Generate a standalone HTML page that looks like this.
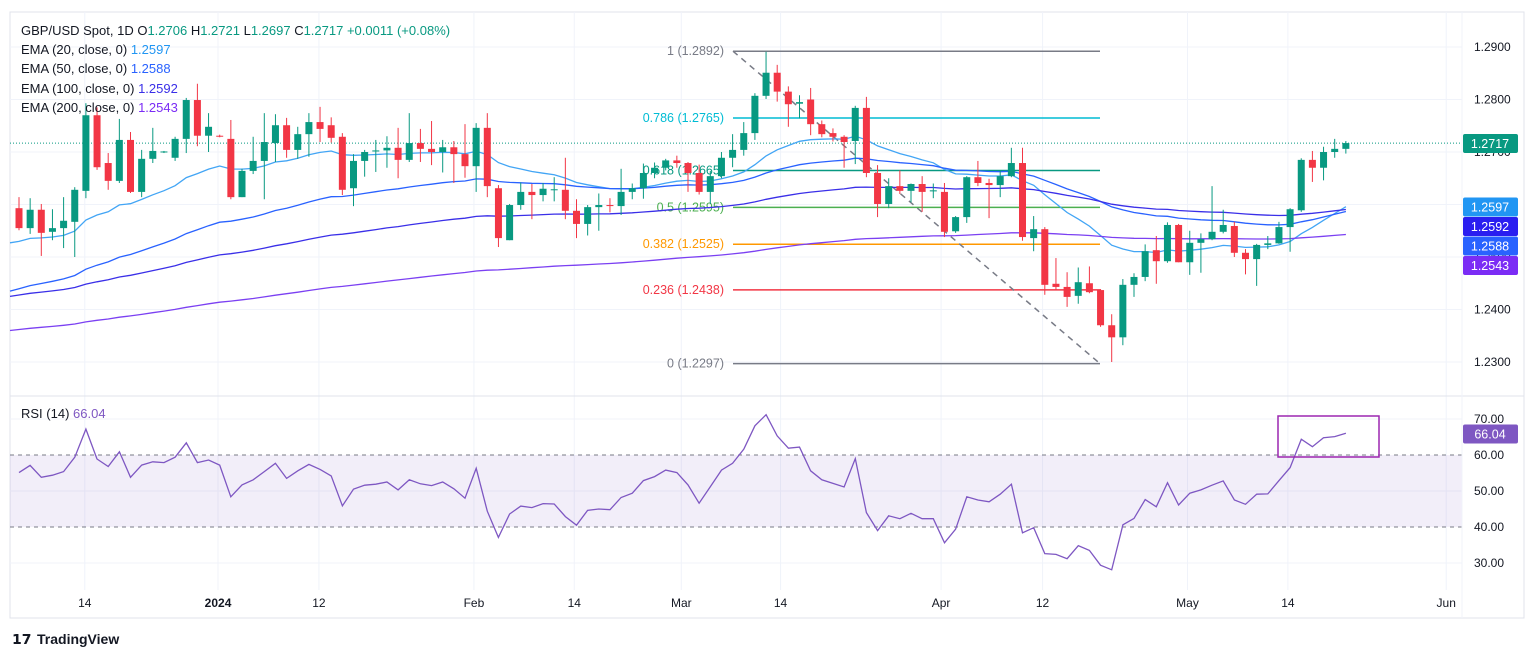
<!DOCTYPE html>
<html><head><meta charset="utf-8">
<style>
html,body{margin:0;padding:0;background:#fff;}
svg{display:block;font-family:"Liberation Sans",sans-serif;}
</style></head>
<body>
<svg id="chart" width="1536" height="659" viewBox="0 0 1536 659" xmlns="http://www.w3.org/2000/svg">
<rect x="0" y="0" width="1536" height="659" fill="#fff"/>
<rect x="10" y="12" width="1514" height="606" fill="none" stroke="#e0e3eb" stroke-width="1"/>
<g id="grid"></g>
<g id="fib"></g>
<g id="emas"></g>
<g id="candles"></g>
<g id="rsi"></g>
<g id="axes"></g>
<g id="legend" font-size="13" fill="#131722">
 <text x="21" y="35">GBP/USD Spot, 1D  O<tspan fill="#089981">1.2706</tspan>  H<tspan fill="#089981">1.2721</tspan>  L<tspan fill="#089981">1.2697</tspan>  C<tspan fill="#089981">1.2717</tspan>  <tspan fill="#089981">+0.0011 (+0.08%)</tspan></text>
 <text x="21" y="54">EMA (20, close, 0)  <tspan fill="#2196f3">1.2597</tspan></text>
 <text x="21" y="73">EMA (50, close, 0)  <tspan fill="#2962ff">1.2588</tspan></text>
 <text x="21" y="93">EMA (100, close, 0)  <tspan fill="#3a2fe8">1.2592</tspan></text>
 <text x="21" y="112">EMA (200, close, 0)  <tspan fill="#7b2cf5">1.2543</tspan></text>
 <text x="21" y="418">RSI (14)  <tspan fill="#7e57c2">66.04</tspan></text>
</g>
<g>
 <text x="12" y="644" font-size="14" font-weight="bold" fill="#131722">𝟭𝟳</text>
 <text x="37" y="644" font-size="14" font-weight="bold" fill="#131722">TradingView</text>
</g>
</svg>
<script>
const opens=[1.2593,1.2555,1.2590,1.2548,1.2555,1.2567,1.2626,1.2770,1.2679,1.2645,1.2723,1.2624,1.2687,1.2700,1.2689,1.2725,1.2799,1.2731,1.2731,1.2725,1.2614,1.2664,1.2683,1.2717,1.2751,1.2704,1.2734,1.2757,1.2751,1.2729,1.2631,1.2683,
1.2701,1.2703,1.2708,1.2685,1.2717,1.2706,1.2700,1.2709,1.2696,1.2673,1.2746,1.2631,1.2532,1.2599,1.2624,1.2618,1.2628,1.2628,1.2588,1.2563,1.2595,1.2599,1.2597,1.2624,1.2631,1.2660,1.2670,1.2684,1.2679,1.2660,1.2624,
1.2654,1.2689,1.2704,1.2736,1.2807,1.2851,1.2815,1.2792,1.2800,1.2753,1.2736,1.2729,1.2721,1.2784,1.2660,1.2601,1.2635,1.2626,1.2639,1.2625,1.2624,1.2549,1.2576,1.2652,1.2641,1.2637,1.2654,1.2679,
1.2536,1.2553,1.2449,1.2443,1.2426,1.2450,1.2437,1.2370,1.2347,1.2447,1.2462,1.2513,1.2492,1.2561,1.2490,1.2527,1.2534,1.2548,1.2559,1.2508,1.2496,1.2523,1.2526,1.2557,1.2589,1.2685,1.2670,1.2700,1.2706];
const highs=[1.2614,1.2612,1.2601,1.2591,1.2614,1.2633,1.2793,1.2785,1.2698,1.2763,1.2738,1.2704,1.2746,1.2702,1.2729,1.2803,1.2830,1.2774,1.2733,1.2761,1.2668,1.2729,1.2774,1.2772,1.2765,1.2748,1.2774,1.2786,1.2766,1.2736,1.2696,1.2704,
1.2723,1.2730,1.2746,1.2774,1.2744,1.2759,1.2723,1.2721,1.2753,1.2755,1.2774,1.2637,1.2601,1.2642,1.2639,1.2641,1.2652,1.2689,1.2610,1.2599,1.2621,1.2612,1.2668,1.2640,1.2678,1.2680,1.2687,1.2693,1.2681,1.2676,1.2664,
1.2700,1.2734,1.2757,1.2812,1.2891,1.2866,1.2825,1.2808,1.2822,1.2760,1.2745,1.2732,1.2788,1.2805,1.2675,1.2650,1.2665,1.2640,1.2654,1.2640,1.2641,1.2578,1.2654,1.2683,1.2649,1.2664,1.2708,1.2708,
1.2578,1.2557,1.2498,1.2471,1.2480,1.2482,1.2439,1.2391,1.2458,1.2469,1.2524,1.2540,1.2566,1.2563,1.2550,1.2545,1.2635,1.2590,1.2567,1.2515,1.2525,1.2540,1.2567,1.2593,1.2688,1.2702,1.2710,1.2725,1.2721];
const lows=[1.2551,1.2544,1.2502,1.2532,1.2517,1.2500,1.2612,1.2666,1.2628,1.2641,1.2622,1.2614,1.2679,1.2698,1.2683,1.2698,1.2711,1.2700,1.2728,1.2610,1.2614,1.2658,1.2610,1.2681,1.2689,1.2687,1.2691,1.2719,1.2718,1.2618,1.2597,1.2653,
1.2662,1.2670,1.2650,1.2681,1.2681,1.2675,1.2661,1.2641,1.2651,1.2624,1.2614,1.2519,1.2532,1.2590,1.2572,1.2606,1.2606,1.2572,1.2536,1.2541,1.2550,1.2585,1.2580,1.2610,1.2611,1.2650,1.2665,1.2670,1.2624,1.2619,1.2601,
1.2650,1.2671,1.2693,1.2723,1.2801,1.2796,1.2748,1.2764,1.2732,1.2728,1.2720,1.2670,1.2677,1.2652,1.2576,1.2593,1.2620,1.2604,1.2586,1.2612,1.2538,1.2546,1.2565,1.2635,1.2574,1.2614,1.2652,1.2531,
1.2511,1.2428,1.2438,1.2405,1.2411,1.2431,1.2367,1.2300,1.2332,1.2424,1.2454,1.2449,1.2489,1.2490,1.2466,1.2470,1.2532,1.2545,1.2500,1.2467,1.2445,1.2515,1.2525,1.2510,1.2586,1.2643,1.2646,1.2689,1.2697];
const closes=[1.2555,1.2590,1.2546,1.2555,1.2569,1.2628,1.2770,1.2671,1.2645,1.2723,1.2624,1.2687,1.2702,1.2701,1.2725,1.2799,1.2731,1.2748,1.2730,1.2614,1.2664,1.2683,1.2719,1.2751,1.2704,1.2734,1.2757,1.2744,1.2727,1.2628,1.2683,1.2700,
1.2703,1.2708,1.2685,1.2717,1.2706,1.2700,1.2709,1.2696,1.2673,1.2746,1.2635,1.2536,1.2599,1.2624,1.2618,1.2630,1.2629,1.2588,1.2563,1.2595,1.2599,1.2597,1.2624,1.2631,1.2660,1.2670,1.2684,1.2679,1.2660,1.2624,1.2654,
1.2689,1.2704,1.2736,1.2807,1.2851,1.2815,1.2791,1.2795,1.2753,1.2734,1.2729,1.2719,1.2784,1.2660,1.2601,1.2635,1.2626,1.2639,1.2624,1.2627,1.2548,1.2576,1.2652,1.2641,1.2637,1.2654,1.2679,1.2538,
1.2553,1.2447,1.2443,1.2424,1.2452,1.2433,1.2370,1.2347,1.2447,1.2462,1.2511,1.2492,1.2561,1.2490,1.2527,1.2534,1.2548,1.2561,1.2508,1.2496,1.2523,1.2526,1.2557,1.2591,1.2685,1.2670,1.2700,1.2706,1.2717];
const rsiValues=[55.1,57.1,53.8,54.4,55.4,59.4,67.2,58.9,56.8,60.9,53.8,57.2,58.1,57.9,59.4,63.4,57.9,58.6,57.2,48.4,51.7,53.1,55.4,57.7,53.5,55.6,57.4,56.0,54.2,45.9,50.5,51.6,51.9,52.5,50.3,53.1,52.0,51.5,52.5,50.6,48.0,56.3,44.4,37.1,43.6,45.8,45.4,46.5,46.4,42.9,40.5,44.6,45.0,44.8,48.2,49.4,52.9,54.0,55.8,55.1,51.7,
46.6,51.2,55.8,57.7,61.6,68.1,71.2,65.3,61.9,62.2,55.6,53.1,52.1,51.1,59.0,44.0,39.0,43.1,42.3,43.8,42.3,42.3,35.6,39.4,48.4,47.5,47.0,49.1,51.9,38.4,39.8,32.6,32.4,31.2,34.8,33.5,29.4,28.1,40.6,42.4,47.6,45.6,52.3,46.1,49.4,50.3,51.6,52.8,47.5,46.3,49.1,49.2,52.9,56.5,64.4,62.3,64.8,65.1,66.04];
const emaPeriods=[20,50,100,200];
const emaSeeds=[1.2527,1.2435,1.2425,1.2360];
const priceTicks=[1.29,1.28,1.27,1.26,1.25,1.24,1.23];
const rsiTicks=[70,60,50,40,30];
const dateLabels=["14","2024","12","Feb","14","Mar","14","Apr","12","May","14","Jun"];
const dateIdx=[5.9,17.85,26.9,40.8,49.8,59.4,68.3,82.7,91.8,104.8,113.8,128];
const fibRatios=[1,0.786,0.618,0.5,0.382,0.236,0];
const fibLabelPrices=["1.2892","1.2765","1.2665","1.2595","1.2525","1.2438","1.2297"];
const fibHigh=1.2892, fibLow=1.2297;
</script>
<script>
const NS="http://www.w3.org/2000/svg";
const PL=10, PR=1462;
function X(i){return 19+11.15*i;}
function Y(p){return 47+(1.29-p)*5250;}
function RY(v){return 419+(70-v)*3.6;}
function mk(tag,attrs,parent){const e=document.createElementNS(NS,tag);for(const k in attrs)e.setAttribute(k,attrs[k]);parent.appendChild(e);return e;}
const grid=document.getElementById('grid'), axes=document.getElementById('axes');
priceTicks.forEach(p=>{
  const l=mk('line',{x1:PL,x2:PR,y1:Y(p),y2:Y(p),stroke:'#f0f3fa'},grid);
  
  
  const t=mk('text',{x:1474,y:Y(p)+4,'font-size':12,fill:'#131722'},axes);
  t.textContent=p.toFixed(4);
  
  
});
[70,50,30].forEach(v=>{
  const l=mk('line',{x1:PL,x2:PR,y1:RY(v),y2:RY(v),stroke:'#f0f3fa'},grid);
  
  
});
rsiTicks.forEach(v=>{
  const t=mk('text',{x:1474,y:RY(v)+4,'font-size':12,fill:'#131722'},axes);
  t.textContent=v.toFixed(2);
  
  
});
dateLabels.forEach((d,k)=>{
  const x=X(dateIdx[k]);
  const l=mk('line',{x1:x,x2:x,y1:12,y2:590,stroke:'#f0f3fa'},grid);
  
  
  const t=mk('text',{x:x,y:607,'font-size':12,fill:'#131722','text-anchor':'middle','font-weight':d==='2024'?'bold':'normal'},axes);
  t.textContent=d;
  
  
});
const sep=mk('line',{x1:PL,x2:1524,y1:396,y2:396,stroke:'#e0e3eb'},axes);


const ax=mk('line',{x1:PR,x2:PR,y1:12,y2:618,stroke:'#f0f3fa'},axes);


const fib=document.getElementById('fib');
const fibColors=['#787b86','#00bcd4','#089981','#4caf50','#ff9800','#f23645','#787b86'];
fibRatios.forEach((r,k)=>{
  const p=fibLow+(fibHigh-fibLow)*r;
  const y=Y(p);
  const l=mk('line',{x1:733,x2:1100,y1:y,y2:y,stroke:fibColors[k],'stroke-width':1.5},fib);
  
  
  const t=mk('text',{x:724,y:y+4,'font-size':12.5,fill:fibColors[k],'text-anchor':'end'},fib);
  t.textContent=r+' ('+fibLabelPrices[k]+')';
  
  
});
const tl=mk('line',{x1:733,y1:Y(fibHigh),x2:1100,y2:Y(fibLow),stroke:'#787b86','stroke-width':1.5,'stroke-dasharray':'6 5'},fib);


const cp=mk('line',{x1:PL,x2:PR,y1:Y(closes[closes.length-1]),y2:Y(closes[closes.length-1]),stroke:'#089981','stroke-dasharray':'1 2'},fib);


const emaG=document.getElementById('emas');
const emaColors=['#42a5f5','#2962ff','#3a2fe8','#7b40f2'];
const emaNames=['ema-20-line','ema-50-line','ema-100-line','ema-200-line'];
emaPeriods.forEach((n,k)=>{
  const a=2/(n+1); let e=emaSeeds[k]; let pts=[[PL,Y(e)]];
  closes.forEach((c,i)=>{e=a*c+(1-a)*e;pts.push([X(i),Y(e)]);});
  const pl=mk('polyline',{points:pts.map(p=>p[0].toFixed(1)+','+p[1].toFixed(1)).join(' '),fill:'none',stroke:emaColors[k],'stroke-width':1.3},emaG);
  
  
});
const cg=document.getElementById('candles');
closes.forEach((c,i)=>{
  const o=opens[i],up=c>=o,col=up?'#089981':'#f23645',x=X(i);
  const w=mk('line',{x1:x,x2:x,y1:Y(highs[i]),y2:Y(lows[i]),stroke:col,'stroke-width':1},cg);
  
  
  const yt=Y(Math.max(o,c)),yb=Y(Math.min(o,c));
  const b=mk('rect',{x:x-3.5,y:yt,width:7,height:Math.max(1,yb-yt),fill:col},cg);
  
  
});
const rg=document.getElementById('rsi');
const band=mk('rect',{x:PL,y:RY(60),width:PR-PL,height:RY(40)-RY(60),fill:'rgba(126,87,194,0.1)'},rg);


[60,40].forEach(v=>{
  const l=mk('line',{x1:PL,x2:PR,y1:RY(v),y2:RY(v),stroke:'#787b86','stroke-dasharray':'4 4'},rg);
  
  
});
const rl=mk('polyline',{points:rsiValues.map((v,i)=>X(i).toFixed(1)+','+RY(v).toFixed(1)).join(' '),fill:'none',stroke:'#7e57c2','stroke-width':1.3},rg);


const box=mk('rect',{x:1278,y:416,width:101,height:41,fill:'none',stroke:'#9c27b0','stroke-width':1.5},rg);


function tag(y,val,bg,name){
  const r=mk('rect',{x:1463,y:y-9.5,width:55,height:19,fill:bg,rx:2},axes);
  
  
  const t=mk('text',{x:1490,y:y+4.5,'font-size':12.5,fill:'#fff','text-anchor':'middle'},axes);
  t.textContent=val;
  
  
}
tag(143.5,'1.2717','#089981','last-price-label');
tag(207,'1.2597','#2196f3','ema20-axis-label');
tag(226.5,'1.2592','#2a1ef0','ema100-axis-label');
tag(246,'1.2588','#2962ff','ema50-axis-label');
tag(265.5,'1.2543','#7b2cf5','ema200-axis-label');
tag(434,'66.04','#7e57c2','rsi-axis-label');
</script>
</body></html>
